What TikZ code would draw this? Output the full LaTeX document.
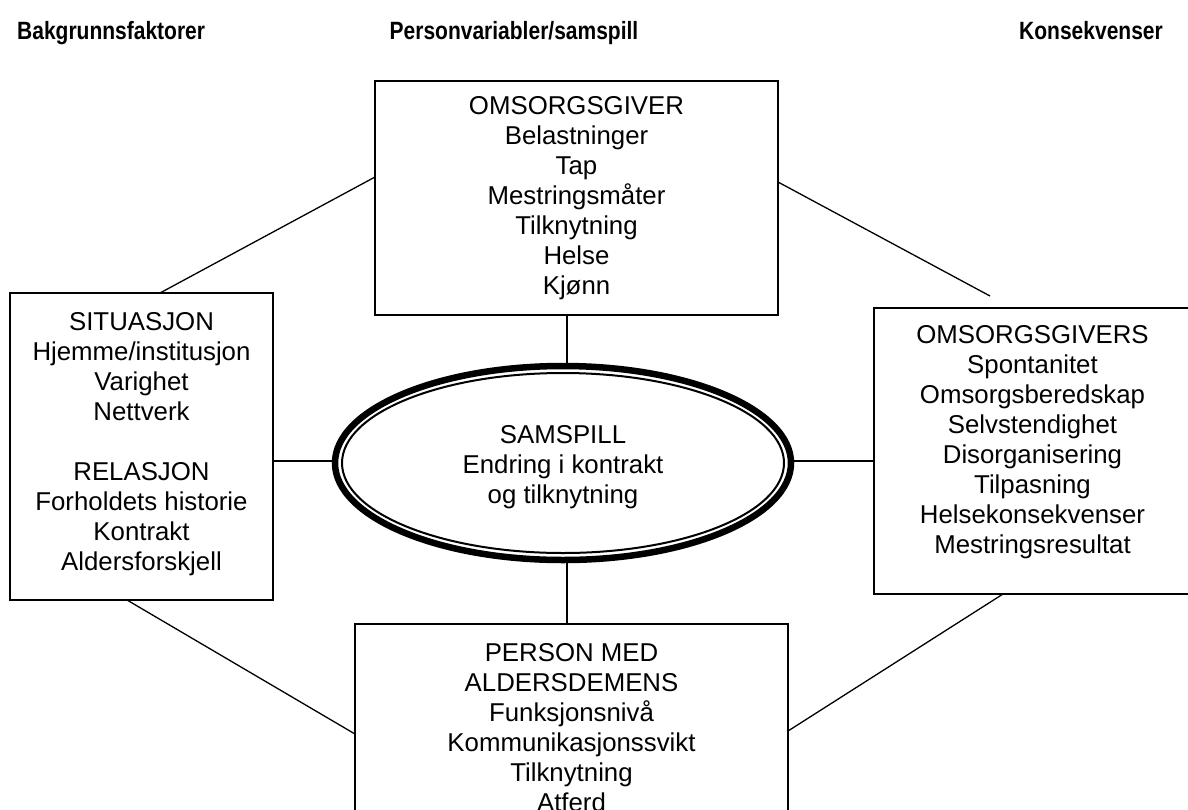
\documentclass[tikz,border=0pt]{standalone}
\usepackage{fontspec}
\setmainfont{Liberation Sans}
\newcommand{\narrowtxt}[1]{\scalebox{0.84}[1]{#1}}
\begin{document}
\begin{tikzpicture}[x=1pt,y=-1pt,
  box/.style={draw=black,line width=1.3pt},
  conn/.style={draw=black,line width=1.3pt},
  body/.style={inner sep=0pt,anchor=north,align=center,font=\fontsize{25.8}{30}\selectfont},
  title/.style={inner sep=0pt,font=\fontsize{25}{29}\selectfont\bfseries}]
\useasboundingbox (0,0) rectangle (1188,809);
\clip (0,0) rectangle (1188,809);
\fill[white] (0,0) rectangle (1188,809);
% titles
\node[title,anchor=base west] (t1) at (17,39) {\narrowtxt{Bakgrunnsfaktorer}};
\node[title,anchor=base] (t2) at (514,39) {\narrowtxt{Personvariabler/samspill}};
\node[title,anchor=base east] (t3) at (1163,39) {\narrowtxt{Konsekvenser}};
% boxes
\draw[box] (375,81) rectangle (778,315);
\coordinate (topL) at (375,177);
\coordinate (topR) at (778,182);
\coordinate (topB) at (567,315);
\draw[box] (10,293) rectangle (273,600);
\coordinate (leftT) at (160,293);
\coordinate (leftR) at (273,461);
\coordinate (leftB) at (127,600);
\draw[box] (874,308) rectangle (1191,594);
\coordinate (rightL) at (874,461);
\coordinate (rightB) at (1003,594);
\draw[box] (355,624) rectangle (788,830);
\coordinate (botT) at (567,624);
\coordinate (botL) at (355,734);
\coordinate (botR) at (788,731);
\coordinate (endTR) at (990,296);
% ellipse
\coordinate (ell) at (563,463);
\draw[line width=6.5pt] (ell) ellipse [x radius=228, y radius=97];
\draw[line width=2pt] (ell) ellipse [x radius=221, y radius=90];
\coordinate (ellT) at (567,368);
\coordinate (ellB) at (567,558);
\coordinate (ellL) at (335,461);
\coordinate (ellR) at (791,461);
% connectors
\draw[conn] (topL) -- (leftT);
\draw[conn] (topR) -- (endTR);
\draw[conn] (leftB) -- (botL);
\draw[conn] (rightB) -- (botR);
\draw[conn] (topB) -- (ellT);
\draw[conn] (ellB) -- (botT);
\draw[conn] (leftR) -- (ellL);
\draw[conn] (ellR) -- (rightL);
% texts
\node[body] (omsorg) at (576.5,96) {OMSORGSGIVER\\Belastninger\\Tap\\Mestringsmåter\\Tilknytning\\Helse\\Kjønn};
\node[body] (situ) at (141.5,312) {SITUASJON\\Hjemme/institusjon\\Varighet\\Nettverk\\[30pt]RELASJON\\Forholdets historie\\Kontrakt\\Aldersforskjell};
\node[body] (kons) at (1032.5,325) {OMSORGSGIVERS\\Spontanitet\\Omsorgsberedskap\\Selvstendighet\\Disorganisering\\Tilpasning\\Helsekonsekvenser\\Mestringsresultat};
\node[body] (samsp) at (563,425) {SAMSPILL\\Endring i kontrakt\\og tilknytning};
\node[body] (person) at (571.5,643) {PERSON MED\\ALDERSDEMENS\\Funksjonsnivå\\Kommunikasjonssvikt\\Tilknytning\\Atferd};
\end{tikzpicture}
\end{document}
